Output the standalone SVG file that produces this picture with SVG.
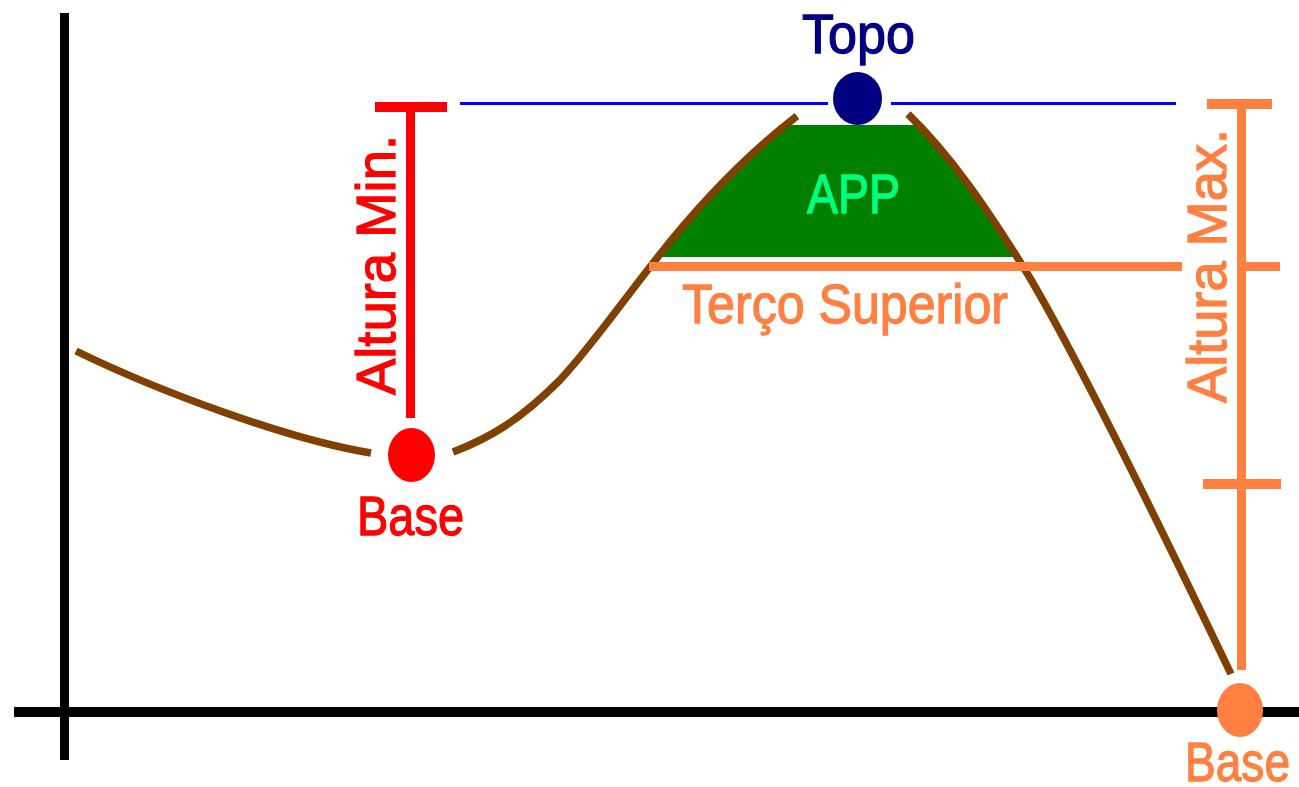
<svg xmlns="http://www.w3.org/2000/svg" width="1299" height="787" viewBox="0 0 1299 787">
<defs>
<clipPath id="appClip"><rect x="600" y="125" width="500" height="132"/></clipPath>
</defs>
<style>
text{font-family:"Liberation Sans",Arial,sans-serif;font-size:56px;stroke-width:1.3px;}
.terrain{fill:none;stroke:#804000;stroke-width:7.5;stroke-linecap:butt;stroke-linejoin:round;}
.red{fill:#FF0000;}
text.red{stroke:#FF0000;}
.orange{fill:#FF8040;}
text.orange{stroke:#FF8040;}
.navy{fill:#000080;}
text.navy{stroke:#000080;}
</style>
<rect width="1299" height="787" fill="#FFFFFF"/>
<g id="axes">
<rect x="60" y="13" width="9" height="747" fill="#000000"/>
<rect x="14" y="707" width="1285" height="10" fill="#000000"/>
</g>
<g id="app">
<path d="M650,267 C690,215 740,160 797,116 L908,114 C950,155 985,205 1027,273 Z" fill="#008000" clip-path="url(#appClip)"/>
<text x="807" y="213" font-size="53" fill="#00FF80" stroke="#00FF80" textLength="93" lengthAdjust="spacingAndGlyphs">APP</text>
</g>
<g id="connectors">
<path class="terrain" d="M76,351 C160,392 290,440 371,453"/>
<path class="terrain" d="M453,452 C490,438 520,420 560,380 C590,348 620,305 650,267 C690,215 740,160 797,116"/>
<path class="terrain" d="M908,114 C950,155 985,205 1027,273 C1070,345 1150,505 1231,674"/>
<rect x="460" y="102" width="368" height="3" fill="#0000FF"/>
<rect x="891" y="102" width="285" height="3" fill="#0000FF"/>
</g>
<g id="terco-superior">
<rect class="orange" x="649" y="262" width="533" height="9"/>
<text x="682" y="323" class="orange" textLength="326" lengthAdjust="spacingAndGlyphs">Terço Superior</text>
</g>
<g id="topo">
<ellipse class="navy" cx="857.5" cy="98.5" rx="24.5" ry="26.5"/>
<text x="802" y="53" class="navy" textLength="113" lengthAdjust="spacingAndGlyphs">Topo</text>
</g>
<g id="base-left">
<ellipse class="red" cx="411.5" cy="455" rx="23.5" ry="27"/>
<text x="357" y="535" class="red" textLength="107" lengthAdjust="spacingAndGlyphs">Base</text>
</g>
<g id="altura-min">
<rect class="red" x="375" y="102" width="72" height="10"/>
<rect class="red" x="406" y="107" width="9" height="311"/>
<text transform="translate(395,395) rotate(-90)" x="0" y="0" class="red" font-size="49" textLength="260" lengthAdjust="spacingAndGlyphs">Altura Min.</text>
</g>
<g id="altura-max">
<rect class="orange" x="1207" y="99" width="65" height="10"/>
<rect class="orange" x="1237" y="104" width="9" height="566"/>
<rect class="orange" x="1246" y="262" width="34" height="9"/>
<rect class="orange" x="1203" y="479" width="78" height="10"/>
<text transform="translate(1226,403) rotate(-90)" x="0" y="0" class="orange" font-size="49" textLength="274" lengthAdjust="spacingAndGlyphs">Altura Max.</text>
</g>
<g id="base-right">
<ellipse class="orange" cx="1240" cy="710" rx="23" ry="27"/>
<text x="1185" y="781" class="orange" font-size="51" textLength="105" lengthAdjust="spacingAndGlyphs">Base</text>
</g>
</svg>
